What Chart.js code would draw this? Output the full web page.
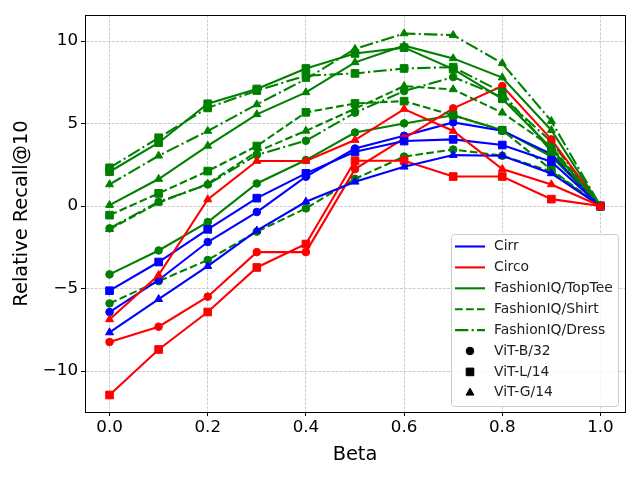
<!DOCTYPE html>
<html>
<head>
<meta charset="utf-8">
<script src="https://cdn.jsdelivr.net/npm/chart.js@4"></script>
<style>
  html, body { margin: 0; padding: 0; background: #fff; }
  #wrap { width: 640px; height: 480px; }
</style>
</head>
<body>
<div id="wrap"><canvas id="chart" width="640" height="480"></canvas></div>
<script>
// Relative Recall@10 vs Beta
const betas = [0.0, 0.1, 0.2, 0.3, 0.4, 0.5, 0.6, 0.7, 0.8, 0.9, 1.0];
const xTicks = [0.0, 0.2, 0.4, 0.6, 0.8, 1.0];
const yTicks = [-10, -5, 0, 5, 10];

// Cirr
const cirrB32 = [-6.42, -4.48, -2.18, -0.36, 1.78, 3.49, 4.26, 5.07, 4.57, 3.15, 0];
const cirrL14 = [-5.13, -3.39, -1.41, 0.48, 1.98, 3.29, 3.94, 4.04, 3.70, 2.69, 0];
const cirrG14 = [-7.66, -5.64, -3.64, -1.49, 0.26, 1.47, 2.38, 3.09, 3.05, 1.98, 0];
// Circo
const circoB32 = [-8.24, -7.31, -5.49, -2.79, -2.79, 2.24, 4.1, 5.92, 7.27, 4.04, 0];
const circoL14 = [-11.45, -8.69, -6.42, -3.72, -2.30, 2.75, 2.75, 1.79, 1.79, 0.42, 0];
const circoG14 = [-6.87, -4.18, 0.40, 2.73, 2.73, 4.0, 5.88, 4.55, 2.24, 1.31, 0];
// FashionIQ/TopTee
const topteeB32 = [-4.14, -2.69, -0.97, 1.37, 2.79, 4.46, 5.01, 5.5, 4.6, 3.0, 0];
const topteeL14 = [2.08, 3.84, 6.2, 7.1, 8.34, 9.25, 9.6, 8.3, 6.5, 3.5, 0];
const topteeG14 = [0.06, 1.64, 3.65, 5.56, 6.89, 8.71, 9.72, 8.95, 7.79, 4.6, 0];
// FashionIQ/Shirt
const shirtB32 = [-5.9, -4.55, -3.27, -1.55, -0.14, 1.65, 3.0, 3.43, 3.05, 2.1, 0];
const shirtL14 = [-0.55, 0.77, 2.12, 3.64, 5.68, 6.22, 6.36, 5.5, 4.6, 2.2, 0];
const shirtG14 = [-1.4, 0.2, 1.35, 3.3, 4.56, 5.9, 7.27, 7.07, 5.66, 3.6, 0];
// FashionIQ/Dress
const dressB32 = [-1.35, 0.26, 1.31, 3.1, 3.96, 5.66, 6.97, 7.82, 6.6, 3.9, 0];
const dressL14 = [2.32, 4.14, 5.95, 7.0, 7.9, 8.04, 8.34, 8.42, 6.9, 3.3, 0];
const dressG14 = [1.31, 3.05, 4.55, 6.16, 7.7, 9.52, 10.46, 10.36, 8.65, 5.15, 0];

const datasetNames = ['Cirr', 'Circo', 'FashionIQ/TopTee', 'FashionIQ/Shirt', 'FashionIQ/Dress'];
const modelNames = ['ViT-B/32', 'ViT-L/14', 'ViT-G/14'];

const LW = 2.08;
const styles = {
  'Cirr': { color: '#0000ff', dash: [] },
  'Circo': { color: '#ff0000', dash: [] },
  'FashionIQ/TopTee': { color: '#008000', dash: [] },
  'FashionIQ/Shirt': { color: '#008000', dash: [7.7, 3.3] },
  'FashionIQ/Dress': { color: '#008000', dash: [13.3, 3.3, 2.1, 3.3] }
};
const markers = {
  'ViT-B/32': { style: 'circle', radius: 3.8 },
  'ViT-L/14': { style: 'rect', radius: 5.4 },
  'ViT-G/14': { style: 'triangle', radius: 4.6 }
};

const values = {
  'Cirr': [cirrB32, cirrL14, cirrG14],
  'Circo': [circoB32, circoL14, circoG14],
  'FashionIQ/TopTee': [topteeB32, topteeL14, topteeG14],
  'FashionIQ/Shirt': [shirtB32, shirtL14, shirtG14],
  'FashionIQ/Dress': [dressB32, dressL14, dressG14]
};

// plotting order: later ones end up on top
const drawOrder = ['FashionIQ/TopTee', 'FashionIQ/Shirt', 'FashionIQ/Dress', 'Cirr', 'Circo'];
const datasets = [];
modelNames.forEach((m, mi) => {
  drawOrder.forEach(d => {
    const s = styles[d];
    const mk = markers[m];
    datasets.push({
      label: d + ' ' + m,
      data: betas.map((b, i) => ({ x: b, y: values[d][mi][i] })),
      borderColor: s.color,
      backgroundColor: s.color,
      borderWidth: LW,
      borderDash: s.dash,
      pointStyle: mk.style,
      pointRadius: mk.radius,
      pointBorderWidth: 1,
      pointBackgroundColor: s.color,
      pointBorderColor: s.color,
      tension: 0
    });
  });
});
datasets.forEach((ds, i) => { ds.order = datasets.length - i; });

function drawMarker(ctx, mk, x, y) {
  ctx.save();
  ctx.fillStyle = '#000';
  ctx.strokeStyle = '#000';
  ctx.lineWidth = 1;
  Chart.helpers.drawPoint(ctx, { pointStyle: mk.style, radius: mk.radius, borderWidth: 1, rotation: 0 }, x, y);
  ctx.restore();
}

// legend drawn inside the axes, lower right
const legendPlugin = {
  id: 'innerLegend',
  afterDraw(chart) {
    const ctx = chart.ctx;
    const x0 = 451, y0 = 234, w = 167, h = 172;
    ctx.save();
    ctx.beginPath();
    ctx.roundRect(x0 + 0.5, y0 + 0.5, w, h, 3);
    ctx.fillStyle = 'rgba(255,255,255,0.8)';
    ctx.fill();
    ctx.strokeStyle = '#cccccc';
    ctx.lineWidth = 1;
    ctx.stroke();

    ctx.font = '13.9px "DejaVu Sans"';
    ctx.textBaseline = 'middle';
    ctx.textAlign = 'left';
    let y = 246.5;
    datasetNames.forEach(d => {
      const s = styles[d];
      ctx.beginPath();
      ctx.setLineDash(s.dash);
      ctx.strokeStyle = s.color;
      ctx.lineWidth = LW;
      ctx.moveTo(455, y);
      ctx.lineTo(485, y);
      ctx.stroke();
      ctx.setLineDash([]);
      ctx.fillStyle = '#222';
      ctx.fillText(d, 494, y);
      y += 20.9;
    });
    modelNames.forEach(m => {
      drawMarker(ctx, markers[m], 470, y);
      ctx.fillStyle = '#222';
      ctx.fillText(m, 494, y);
      y += 20.9;
    });
    ctx.restore();
  }
};

// full box around the axes
const framePlugin = {
  id: 'frame',
  afterDatasetsDraw(chart) {
    const a = chart.chartArea;
    const ctx = chart.ctx;
    ctx.save();
    ctx.strokeStyle = '#000';
    ctx.lineWidth = 1;
    ctx.strokeRect(a.left + 0.5, a.top + 0.5, a.right - a.left, a.bottom - a.top);
    ctx.restore();
  }
};

const tickFont = { family: 'DejaVu Sans', size: 16.7 };
const titleFont = { family: 'DejaVu Sans', size: 19.4 };

new Chart(document.getElementById('chart'), {
  type: 'line',
  data: { datasets },
  options: {
    responsive: false,
    animation: false,
    layout: { padding: { top: 15, right: 15, left: 0, bottom: 0 } },
    plugins: {
      legend: { display: false },
      tooltip: { enabled: false }
    },
    scales: {
      x: {
        type: 'linear',
        min: -0.05,
        max: 1.05,
        afterBuildTicks: s => { s.ticks = xTicks.map(v => ({ value: v })); },
        afterFit: s => { s.height = 68; },
        ticks: {
          font: tickFont,
          color: '#000',
          padding: 2,
          maxRotation: 0,
          callback: v => v.toFixed(1)
        },
        grid: { color: 'rgba(176,176,176,0.8)', lineWidth: 0.8, tickColor: '#000', tickLength: 4, tickWidth: 1 },
        border: { display: true, color: '#000', dash: [3, 1.3] },
        title: { display: true, text: 'Beta', font: titleFont, color: '#000', padding: { top: 0, bottom: 13 } }
      },
      y: {
        type: 'linear',
        min: -12.48,
        max: 11.58,
        afterBuildTicks: s => { s.ticks = yTicks.map(v => ({ value: v })); },
        afterFit: s => { s.width = 85; },
        ticks: {
          font: tickFont,
          color: '#000',
          padding: 3,
          callback: v => v.toString().replace('-', '\u2212')
        },
        grid: { color: 'rgba(176,176,176,0.8)', lineWidth: 0.8, tickColor: '#000', tickLength: 4, tickWidth: 1 },
        border: { display: true, color: '#000', dash: [3, 1.3] },
        title: { display: true, text: 'Relative Recall@10', font: titleFont, color: '#000', padding: { top: 10, bottom: 0 } }
      }
    }
  },
  plugins: [framePlugin, legendPlugin]
});
</script>
</body>
</html>
